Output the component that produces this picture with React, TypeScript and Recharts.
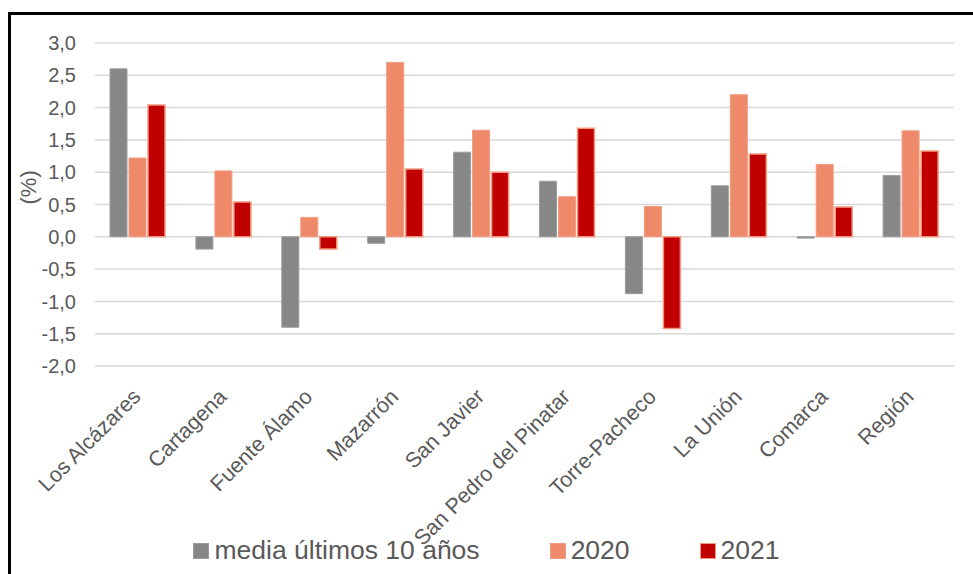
import React from "react";
import { BarChart, Bar, XAxis, YAxis, CartesianGrid, Legend } from "recharts";

const categories = [
  "Los Alcázares", "Cartagena", "Fuente Álamo", "Mazarrón", "San Javier",
  "San Pedro del Pinatar", "Torre-Pacheco", "La Unión", "Comarca", "Región",
];
const media10 = [2.6, -0.19, -1.4, -0.1, 1.31, 0.86, -0.88, 0.79, -0.02, 0.95];
const y2020 = [1.22, 1.02, 0.3, 2.7, 1.65, 0.62, 0.47, 2.2, 1.12, 1.64];
const y2021 = [2.04, 0.54, -0.19, 1.05, 1.0, 1.68, -1.42, 1.28, 0.46, 1.33];
const yTicks = [-2, -1.5, -1, -0.5, 0, 0.5, 1, 1.5, 2, 2.5, 3];

const series = [
  { key: "media", name: "media últimos 10 años", fill: "#878787", stroke: "#9c9c9c" },
  { key: "y2020", name: "2020", fill: "#EE8A6A", stroke: "#F19C80" },
  { key: "y2021", name: "2021", fill: "#C00000", stroke: "#F29A80" },
];

const data = categories.map((name, i) => ({
  name,
  media: media10[i],
  y2020: y2020[i],
  y2021: y2021[i],
}));

const FONT = "'Liberation Sans', Arial, sans-serif";
const TEXT = "#595959";

const fmt = (v: number) => v.toFixed(1).replace(".", ",");

function XTick({ x, y, payload }: any) {
  const tx = x + 4;
  const ty = y + 24;
  return (
    <text
      x={tx}
      y={ty}
      textAnchor="end"
      transform={`rotate(-45, ${tx}, ${ty})`}
      fill={TEXT}
      fontSize={21.5}
      fontFamily={FONT}
    >
      {payload.value}
    </text>
  );
}

function LegendContent() {
  return (
    <div style={{ display: "flex", justifyContent: "center", gap: 70, fontFamily: FONT, fontSize: 26.5, color: TEXT }}>
      {series.map((s) => (
        <div key={s.key} style={{ display: "flex", alignItems: "center", gap: 5 }}>
          <span style={{ display: "inline-block", width: 14, height: 14, background: s.fill, border: `1px solid ${s.stroke}` }} />
          <span>{s.name}</span>
        </div>
      ))}
    </div>
  );
}

export default function App() {
  return (
    <div style={{ position: "fixed", left: 0, top: 0, width: 973, height: 574, overflow: "hidden", background: "#fff" }}>
      <div
        style={{
          position: "absolute", left: 8, top: 12, width: 1000, height: 600,
          border: "3px solid #000", boxSizing: "border-box",
        }}
      />
      <div style={{ position: "absolute", left: 0, top: 0 }}>
        <BarChart
          width={973}
          height={574}
          data={data}
          margin={{ top: 43, right: 19, bottom: 0, left: 0 }}
          barSize={17}
          barGap={2}
        >
          <CartesianGrid vertical={false} stroke="#D9D9D9" strokeWidth={1.5} />
          <XAxis
            dataKey="name"
            height={208}
            axisLine={false}
            tickLine={false}
            interval={0}
            tick={<XTick />}
          />
          <YAxis
            width={95}
            domain={[-2, 3]}
            ticks={yTicks}
            tickFormatter={fmt}
            axisLine={false}
            tickLine={false}
            tickSize={6}
            tickMargin={13}
            tick={{ fill: TEXT, fontSize: 20, fontFamily: FONT }}
            label={{
              value: "(%)",
              angle: -90,
              position: "insideLeft",
              dx: 23,
              fill: TEXT,
              fontSize: 22,
              fontFamily: FONT,
            }}
          />
          <Legend
            layout="horizontal"
            verticalAlign="middle"
            align="center"
            wrapperStyle={{ top: 535, left: 0, width: 973 }}
            content={<LegendContent />}
          />
          {series.map((s) => (
            <Bar
              key={s.key}
              dataKey={s.key}
              name={s.name}
              fill={s.fill}
              stroke={s.stroke}
              strokeWidth={s.key === "y2021" ? 1.5 : 1}
              isAnimationActive={false}
            />
          ))}
        </BarChart>
      </div>
    </div>
  );
}
